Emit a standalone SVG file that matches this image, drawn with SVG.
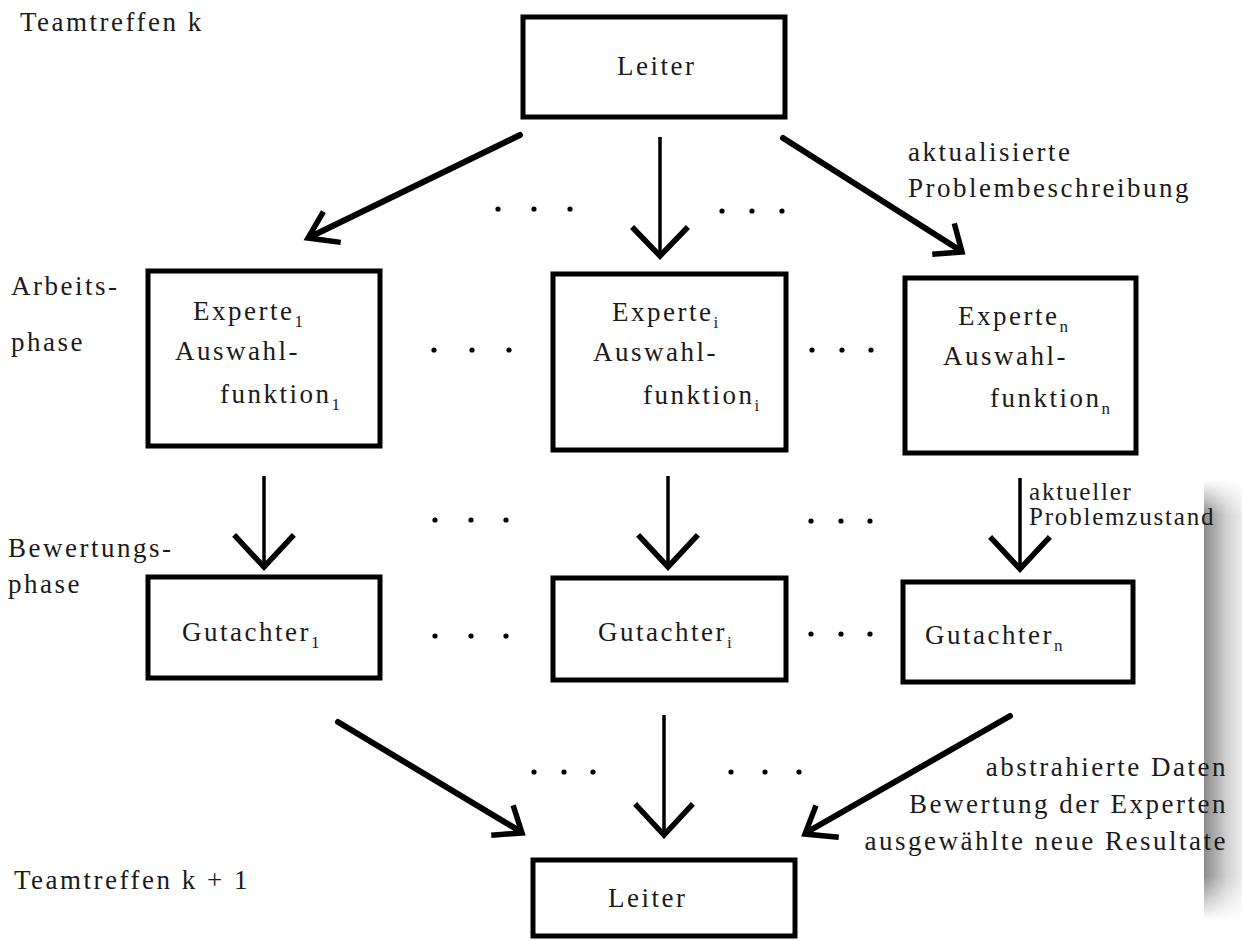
<svg xmlns="http://www.w3.org/2000/svg" width="1242" height="941" viewBox="0 0 1242 941">
<defs>
<linearGradient id="scan" x1="0" y1="0" x2="1" y2="0">
<stop offset="0" stop-color="#8a8a8a"/>
<stop offset="0.25" stop-color="#a8a8a8"/>
<stop offset="0.6" stop-color="#d0d0d0"/>
<stop offset="1" stop-color="#ececec"/>
</linearGradient>
<linearGradient id="scanfade" x1="0" y1="0" x2="0" y2="1">
<stop offset="0" stop-color="#fff" stop-opacity="0"/>
<stop offset="0.08" stop-color="#fff" stop-opacity="1"/>
<stop offset="0.9" stop-color="#fff" stop-opacity="1"/>
<stop offset="1" stop-color="#fff" stop-opacity="0"/>
</linearGradient>
<mask id="fadeMask"><rect x="1200" y="480" width="42" height="440" fill="url(#scanfade)"/></mask>
</defs>
<style>
.box{fill:#fff;stroke:#000;stroke-width:5}
.t{font-family:"Liberation Serif","Times New Roman",serif;font-size:27px;fill:#1a1a1a;letter-spacing:2.5px}
.s{font-size:25px;letter-spacing:1.8px}
.sub{font-size:17px}
.shaft{stroke:#000;stroke-width:6;stroke-linecap:round;fill:none}
.vshaft{stroke:#000;stroke-width:3.5;fill:none}
.head{stroke:#000;stroke-width:5.5;fill:none;stroke-linecap:square;stroke-linejoin:miter}
.dot{fill:#000}
</style>
<rect width="1242" height="941" fill="#fff"/>
<rect x="1204" y="480" width="38" height="440" fill="url(#scan)" mask="url(#fadeMask)"/>
<g id="labels">
<text class="t" x="20" y="31">Teamtreffen k</text>
<text class="t" x="908" y="161">aktualisierte</text>
<text class="t" x="908" y="197">Problembeschreibung</text>
<text class="t" x="11" y="295">Arbeits-</text>
<text class="t" x="11" y="351">phase</text>
<text class="t" x="8" y="557">Bewertungs-</text>
<text class="t" x="8" y="593">phase</text>
<text class="t s" x="1029" y="500">aktueller</text>
<text class="t s" x="1029" y="525">Problemzustand</text>
<text class="t" x="1228" y="776" text-anchor="end">abstrahierte Daten</text>
<text class="t" x="1228" y="813" text-anchor="end">Bewertung der Experten</text>
<text class="t" x="1228" y="850" text-anchor="end">ausgewählte neue Resultate</text>
<text class="t" x="14" y="889">Teamtreffen k + 1</text>
</g>
<g id="leiter-top">
<rect class="box" x="523" y="17" width="262" height="100"/>
<text class="t" x="617" y="75">Leiter</text>
</g>
<g id="experte-1">
<rect class="box" x="148" y="271" width="232" height="175"/>
<text class="t" x="193" y="320">Experte<tspan class="sub" dy="7">1</tspan></text>
<text class="t" x="175" y="360">Auswahl-</text>
<text class="t" x="220" y="403">funktion<tspan class="sub" dy="7">1</tspan></text>
</g>
<g id="experte-i">
<rect class="box" x="553" y="274" width="233" height="176"/>
<text class="t" x="612" y="321">Experte<tspan class="sub" dy="7">i</tspan></text>
<text class="t" x="593" y="361">Auswahl-</text>
<text class="t" x="643" y="404">funktion<tspan class="sub" dy="7">i</tspan></text>
</g>
<g id="experte-n">
<rect class="box" x="905" y="278" width="231" height="175"/>
<text class="t" x="958" y="325">Experte<tspan class="sub" dy="7">n</tspan></text>
<text class="t" x="943" y="365">Auswahl-</text>
<text class="t" x="990" y="407">funktion<tspan class="sub" dy="7">n</tspan></text>
</g>
<g id="gutachter-1">
<rect class="box" x="148" y="577" width="232" height="101"/>
<text class="t" x="182" y="641">Gutachter<tspan class="sub" dy="7">1</tspan></text>
</g>
<g id="gutachter-i">
<rect class="box" x="553" y="578" width="233" height="102"/>
<text class="t" x="598" y="641">Gutachter<tspan class="sub" dy="7">i</tspan></text>
</g>
<g id="gutachter-n">
<rect class="box" x="903" y="582" width="230" height="100"/>
<text class="t" x="925" y="644">Gutachter<tspan class="sub" dy="7">n</tspan></text>
</g>
<g id="leiter-bottom">
<rect class="box" x="533" y="860" width="262" height="76"/>
<text class="t" x="608" y="907">Leiter</text>
</g>
<g id="connectors">
<line class="shaft" x1="520" y1="135" x2="312" y2="236"/>
<polyline class="head" points="322,214 308,238 338,242"/>
<line class="vshaft" x1="660" y1="137" x2="660" y2="254"/>
<polyline class="head" points="634,229 660,256 686,229"/>
<line class="shaft" x1="783" y1="138" x2="958" y2="249"/>
<polyline class="head" points="955,226 962,252 935,254"/>
<line class="vshaft" x1="264" y1="476" x2="264" y2="566"/>
<polyline class="head" points="236,537 264,567 292,537"/>
<line class="vshaft" x1="668" y1="476" x2="668" y2="566"/>
<polyline class="head" points="640,537 668,567 696,537"/>
<line class="vshaft" x1="1020" y1="478" x2="1020" y2="568"/>
<polyline class="head" points="992,539 1020,569 1048,539"/>
<line class="shaft" x1="338" y1="722" x2="518" y2="830"/>
<polyline class="head" points="514,808 522,833 494,835"/>
<line class="vshaft" x1="664" y1="715" x2="664" y2="832"/>
<polyline class="head" points="637,806 664,835 691,806"/>
<line class="shaft" x1="1010" y1="716" x2="809" y2="831"/>
<polyline class="head" points="815,808 805,834 836,837"/>
</g>
<g id="ellipses">
<circle class="dot" cx="498" cy="209" r="2.6"/><circle class="dot" cx="534" cy="209" r="2.6"/><circle class="dot" cx="570" cy="209" r="2.6"/>
<circle class="dot" cx="722" cy="211" r="2.6"/><circle class="dot" cx="752" cy="211" r="2.6"/><circle class="dot" cx="782" cy="211" r="2.6"/>
<circle class="dot" cx="434" cy="350" r="2.6"/><circle class="dot" cx="472" cy="350" r="2.6"/><circle class="dot" cx="509" cy="350" r="2.6"/>
<circle class="dot" cx="812" cy="350" r="2.6"/><circle class="dot" cx="842" cy="350" r="2.6"/><circle class="dot" cx="871" cy="350" r="2.6"/>
<circle class="dot" cx="435" cy="520" r="2.6"/><circle class="dot" cx="471" cy="520" r="2.6"/><circle class="dot" cx="506" cy="520" r="2.6"/>
<circle class="dot" cx="811" cy="521" r="2.6"/><circle class="dot" cx="841" cy="521" r="2.6"/><circle class="dot" cx="870" cy="521" r="2.6"/>
<circle class="dot" cx="435" cy="636" r="2.6"/><circle class="dot" cx="471" cy="636" r="2.6"/><circle class="dot" cx="506" cy="636" r="2.6"/>
<circle class="dot" cx="811" cy="634" r="2.6"/><circle class="dot" cx="841" cy="634" r="2.6"/><circle class="dot" cx="870" cy="634" r="2.6"/>
<circle class="dot" cx="534" cy="772" r="2.6"/><circle class="dot" cx="564" cy="772" r="2.6"/><circle class="dot" cx="593" cy="772" r="2.6"/>
<circle class="dot" cx="731" cy="772" r="2.6"/><circle class="dot" cx="765" cy="772" r="2.6"/><circle class="dot" cx="799" cy="772" r="2.6"/>
</g>
</svg>
